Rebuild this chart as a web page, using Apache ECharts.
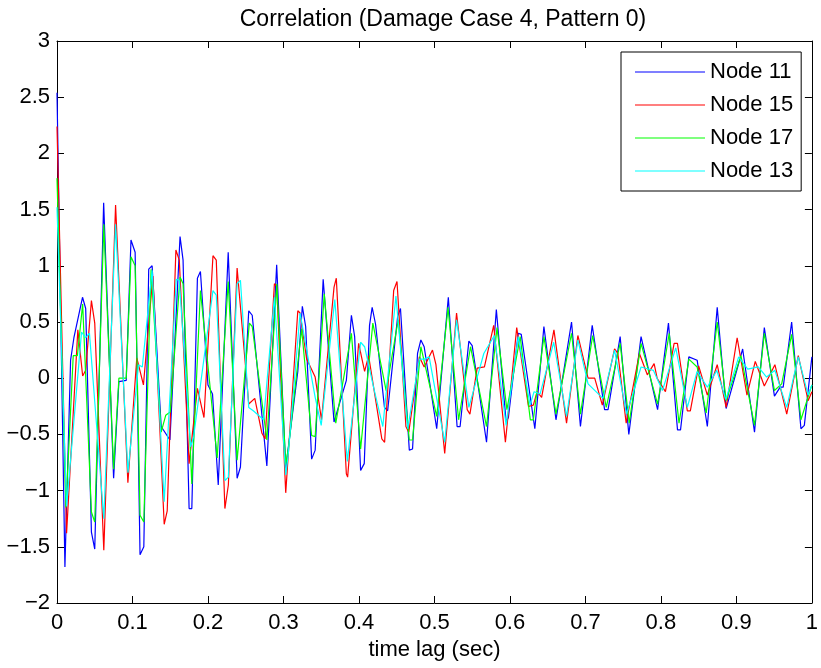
<!DOCTYPE html>
<html>
<head>
<meta charset="utf-8">
<script src="https://cdn.jsdelivr.net/npm/echarts@6/dist/echarts.min.js"></script>
<style>html,body{margin:0;padding:0;background:#fff}#c{width:821px;height:668px}</style>
</head>
<body>
<div id="c"></div>
<script>
var chartTitle = 'Correlation (Damage Case 4, Pattern 0)';
var xAxisName = 'time lag (sec)';
var seriesNames = ['Node 11', 'Node 15', 'Node 17', 'Node 13'];
var xTickLabels = ['0','0.1','0.2','0.3','0.4','0.5','0.6','0.7','0.8','0.9','1'];
var yTickLabels = ['\u22122','\u22121.5','\u22121','\u22120.5','0','0.5','1','1.5','2','2.5','3'];

var node11 = [[0,2.54],[0.0105,-1.68],[0.018,0.16],[0.0224,0.36],[0.0338,0.72],[0.038,0.62],[0.0456,-1.37],[0.05,-1.52],[0.0618,1.56],[0.075,-0.89],[0.082,-0.03],[0.0917,-0.02],[0.098,1.23],[0.1035,1.12],[0.11,-1.57],[0.115,-1.50],[0.1215,0.97],[0.126,1.00],[0.138,-0.43],[0.1496,-0.55],
[0.163,1.26],[0.167,1.05],[0.175,-1.16],[0.1786,-1.16],[0.186,0.89],[0.19,0.95],[0.2,-0.06],[0.206,-0.14],[0.2136,-0.95],[0.2268,1.12],[0.2386,-0.89],[0.243,-0.79],[0.254,0.60],[0.2586,0.56],[0.278,-0.78],[0.291,1.01],[0.303,-0.80],
[0.319,0.06],[0.325,0.64],[0.3294,0.46],[0.3373,-0.72],[0.342,-0.64],[0.3526,0.88],[0.367,-0.39],[0.3833,-0.02],[0.39,0.56],[0.3943,0.37],[0.4022,-0.82],[0.407,-0.76],[0.414,0.47],[0.4175,0.63],[0.422,0.48],[0.4338,-0.26],[0.438,-0.29],[0.4513,0.55],[0.455,0.62],[0.4667,-0.64],
[0.471,-0.63],[0.4776,0.22],[0.482,0.34],[0.4864,0.28],[0.503,-0.45],[0.5184,0.72],[0.530,-0.43],[0.534,-0.43],[0.5456,0.33],[0.55,0.29],[0.569,-0.57],[0.582,0.61],[0.595,-0.39],[0.598,-0.35],[0.611,0.40],[0.615,0.39],
[0.633,-0.45],[0.645,0.46],[0.661,-0.37],[0.6816,0.50],[0.6934,-0.43],[0.709,0.47],[0.7254,-0.28],[0.73,-0.28],[0.746,0.37],[0.7575,-0.50],[0.7737,0.37],[0.7956,-0.28],[0.81,0.49],
[0.822,-0.46],[0.826,-0.46],[0.837,0.19],[0.848,0.16],[0.8615,-0.43],[0.8746,0.63],[0.8864,-0.27],[0.9083,0.26],[0.924,-0.48],[0.937,0.45],[0.9504,-0.16],[0.958,-0.08],[0.962,-0.08],[0.9732,0.50],[0.9855,-0.45],[0.99,-0.42],[1.0,0.19]];

var node15 = [[0,2.24],[0.0127,-1.38],[0.0276,0.43],[0.034,0.02],[0.038,0.07],[0.0456,0.69],[0.05,0.49],[0.062,-1.53],[0.0776,1.54],[0.0939,-0.93],[0.1057,0.18],[0.1145,-0.06],[0.127,0.91],[0.142,-1.30],[0.146,-1.18],[0.1575,1.14],
[0.162,1.05],[0.175,-0.76],[0.186,-0.09],[0.1947,-0.35],[0.2066,1.09],[0.211,1.05],[0.2224,-1.16],[0.227,-0.95],[0.2386,0.98],[0.254,-0.23],[0.262,-0.18],[0.2715,-0.49],[0.2757,-0.54],[0.288,0.84],[0.291,0.82],[0.303,-1.02],
[0.319,0.60],[0.322,0.58],[0.3307,0.17],[0.342,0.01],[0.3504,-0.37],[0.367,0.81],[0.37,0.89],[0.3833,-0.85],[0.385,-0.88],[0.3996,0.31],[0.4075,0.06],[0.4128,0.20],[0.4303,-0.54],[0.434,-0.57],[0.446,0.78],[0.4504,0.86],[0.4622,-0.43],
[0.466,-0.48],[0.48,0.19],[0.4864,0.10],[0.4974,0.25],[0.502,0.12],[0.5136,-0.67],[0.5293,0.58],[0.5434,-0.28],[0.547,-0.32],[0.5566,0.09],[0.5662,0.10],[0.5785,0.47],[0.594,-0.57],[0.609,0.45],[0.6246,-0.25],[0.631,-0.24],
[0.636,-0.12],[0.642,-0.17],[0.6583,0.43],[0.675,-0.40],[0.69,0.38],[0.7035,0.0],[0.7123,0.0],[0.7224,-0.24],[0.7386,0.26],[0.743,0.22],[0.754,-0.40],[0.7715,0.22],[0.782,0.03],[0.791,0.13],[0.795,0.0],[0.806,-0.12],
[0.8175,0.31],[0.8219,0.31],[0.835,-0.29],[0.839,-0.29],[0.85,0.11],[0.8615,-0.15],[0.8746,0.12],[0.8864,-0.26],[0.901,0.36],[0.914,-0.15],[0.925,0.15],[0.937,-0.07],[0.951,0.12],[0.9667,-0.32],[0.982,0.20],[0.995,-0.20],[1.0,-0.12]];

var node17 = [[0,1.78],[0.0118,-1.15],[0.0215,0.20],[0.027,0.20],[0.034,0.66],[0.0456,-1.19],[0.05,-1.28],[0.062,1.37],[0.075,-0.81],[0.082,0.0],[0.0917,0.0],[0.098,1.08],[0.1035,1.0],[0.11,-1.22],[0.115,-1.28],[0.1246,0.97],[0.138,-0.48],[0.144,-0.33],[0.15,-0.30],
[0.163,0.90],[0.167,0.84],[0.1786,-0.94],[0.19,0.78],[0.2122,-0.71],[0.2268,0.86],[0.2386,-0.73],[0.2548,0.49],[0.2586,0.46],[0.278,-0.55],[0.2912,0.84],[0.303,-0.77],[0.307,-0.60],
[0.324,0.44],[0.3373,-0.51],[0.342,-0.52],[0.354,0.75],[0.3693,-0.40],[0.39,0.40],[0.4022,-0.63],[0.4184,0.49],[0.436,-0.11],[0.452,0.52],[0.4667,-0.55],[0.471,-0.55],
[0.482,0.28],[0.503,-0.34],[0.518,0.63],[0.532,-0.37],[0.5478,0.28],[0.569,-0.43],[0.5829,0.45],[0.596,-0.28],[0.6136,0.37],[0.627,-0.37],[0.631,-0.37],
[0.645,0.37],[0.661,-0.32],[0.6816,0.40],[0.6934,-0.32],[0.7096,0.38],[0.7276,-0.26],[0.746,0.31],[0.758,-0.40],[0.7737,0.31],[0.7956,-0.23],[0.811,0.40],
[0.824,-0.40],[0.837,0.17],[0.848,0.10],[0.86,-0.31],[0.8746,0.50],[0.8864,-0.20],[0.906,0.20],[0.924,-0.42],[0.937,0.40],[0.9504,-0.11],[0.96,-0.05],[0.9732,0.39],[0.9855,-0.37],[1.0,-0.06]];

var node13 = [[0,1.52],[0.0127,-1.14],[0.0325,0.41],[0.038,0.36],[0.043,0.40],[0.062,-1.25],[0.0776,1.37],[0.094,-0.84],[0.108,0.12],[0.113,0.10],[0.126,0.96],[0.142,-1.10],
[0.158,0.88],[0.162,0.87],[0.177,-0.61],[0.181,-0.52],[0.2066,0.78],[0.211,0.74],[0.2224,-0.91],[0.227,-0.88],[0.2386,0.84],[0.243,0.87],[0.254,-0.26],[0.26,-0.29],[0.2737,-0.37],[0.288,0.72],[0.303,-0.86],[0.306,-0.70],
[0.322,0.58],[0.342,-0.17],[0.35,-0.42],[0.368,0.70],[0.3846,-0.74],[0.4022,0.32],[0.4075,0.28],[0.42,-0.10],[0.4316,-0.43],[0.449,0.73],[0.4645,-0.45],
[0.48,0.17],[0.4864,0.17],[0.493,0.19],[0.5136,-0.57],[0.5293,0.52],[0.5456,-0.26],[0.5654,0.22],[0.5794,0.38],[0.595,-0.42],[0.611,0.37],[0.6267,-0.24],
[0.632,-0.12],[0.64,-0.14],[0.658,0.32],[0.675,-0.34],[0.69,0.34],[0.7035,-0.05],[0.7232,-0.18],[0.7386,0.25],[0.7545,-0.32],[0.7737,0.10],[0.79,0.07],[0.802,-0.11],
[0.8197,0.27],[0.835,-0.26],[0.848,0.06],[0.8615,-0.08],[0.874,0.07],[0.886,-0.19],[0.903,0.19],[0.915,0.08],[0.929,0.10],[0.94,0.01],[0.951,0.07],[0.9667,-0.26],[0.982,0.19],[0.995,-0.15],[1.0,-0.06]];

var seriesData = [node11, node15, node17, node13];
var seriesColors = ['#0000ff', '#ff0000', '#00ff00', '#00ffff'];

var FONT = '"Liberation Sans", Arial, Helvetica, sans-serif';
var chart = echarts.init(document.getElementById('c'), null, {renderer: 'canvas'});

function xLab(v) { var i = Math.round(v * 10); return xTickLabels[i] !== undefined ? xTickLabels[i] : ''; }
function yLab(v) { var i = Math.round((v + 2) * 2); return yTickLabels[i] !== undefined ? yTickLabels[i] : ''; }

var axisCommon = {
  type: 'value',
  axisLine: {show: true, onZero: false, lineStyle: {color: '#000', width: 1}},
  axisTick: {show: true, inside: true, length: 7, lineStyle: {color: '#000', width: 1}},
  splitLine: {show: false}
};

var option = {
  animation: false,
  backgroundColor: '#fff',
  title: {
    text: chartTitle,
    left: 438, top: 3, textAlign: 'center',
    textStyle: {fontFamily: FONT, fontSize: 23, fontWeight: 'normal', color: '#000'}
  },
  legend: {
    orient: 'vertical',
    left: 621, top: 52,
    padding: [9, 8, 9, 14],
    itemGap: 11,
    icon: 'rect',
    itemWidth: 70, itemHeight: 1.2,
    backgroundColor: '#fff',
    borderColor: '#000', borderWidth: 1, borderRadius: 0,
    textStyle: {fontFamily: FONT, fontSize: 22, color: '#000', lineHeight: 22},
    data: seriesNames
  },
  grid: {left: 57, right: 4, top: 41, bottom: 65, containLabel: false},
  xAxis: [
    Object.assign({}, axisCommon, {
      position: 'bottom', min: 0, max: 1, interval: 0.1,
      name: xAxisName, nameLocation: 'middle', nameGap: 32,
      nameTextStyle: {fontFamily: FONT, fontSize: 22, color: '#000'},
      axisLabel: {show: true, margin: 9, color: '#000', fontFamily: FONT, fontSize: 22, formatter: xLab, showMaxLabel: true}
    }),
    Object.assign({}, axisCommon, {
      position: 'top', min: 0, max: 1, interval: 0.1, axisLabel: {show: false}
    })
  ],
  yAxis: [
    Object.assign({}, axisCommon, {
      position: 'left', min: -2, max: 3, interval: 0.5,
      axisLabel: {show: true, margin: 7, color: '#000', fontFamily: FONT, fontSize: 22, formatter: yLab}
    }),
    Object.assign({}, axisCommon, {
      position: 'right', min: -2, max: 3, interval: 0.5, axisLabel: {show: false}
    })
  ],
  series: seriesNames.map(function (n, i) {
    return {
      name: n, type: 'line', xAxisIndex: 0, yAxisIndex: 0,
      data: seriesData[i], symbol: 'none', showSymbol: false,
      lineStyle: {color: seriesColors[i], width: 1.2},
      itemStyle: {color: seriesColors[i]},
      clip: true, z: 2 + i
    };
  })
};
chart.setOption(option);
</script>
</body>
</html>
